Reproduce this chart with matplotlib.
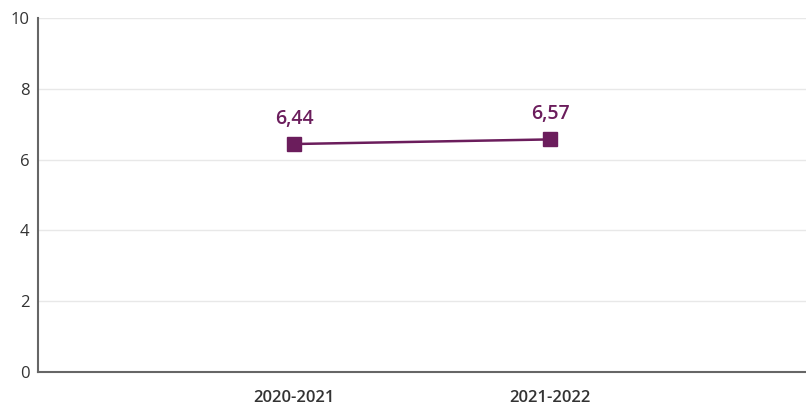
import matplotlib
matplotlib.use("Agg")
import matplotlib.pyplot as plt

seasons = ["2020-2021", "2021-2022"]
values = [6.44, 6.57]
labels = ["6,44", "6,57"]
yticks = [0, 2, 4, 6, 8, 10]

purple = "#6b1d5c"
plt.rcParams['font.family'] = ['Open Sans', 'DejaVu Sans']

fig = plt.figure(figsize=(8.06, 4.07), dpi=100)
ax = fig.add_axes([0.0471, 0.086, 0.9529, 0.8698])

x = list(range(len(seasons)))
ax.plot(x, values, color=purple, linewidth=1.8, marker="s", markersize=10, zorder=3)
for xi, v, lab in zip(x, values, labels):
    ax.annotate(lab, (xi, v), xytext=(0, 11), textcoords="offset points",
                ha="center", va="bottom", color=purple, fontsize=14, fontweight="semibold")

ax.set_xlim(-1, 2)
ax.set_ylim(0, 10)
ax.set_xticks(x)
ax.set_xticklabels(seasons, fontweight="semibold")
ax.set_yticks(yticks)
ax.set_yticklabels([str(t) for t in yticks])
ax.tick_params(axis="x", length=0, pad=13, labelsize=12, colors="#333333")
ax.tick_params(axis="y", length=0, pad=6, labelsize=12, colors="#333333")
ax.grid(axis="y", color="#e8e8e8", linewidth=1)
ax.set_axisbelow(True)
for s in ["top", "right"]:
    ax.spines[s].set_visible(False)
for s in ["left", "bottom"]:
    ax.spines[s].set_color("#666666")
    ax.spines[s].set_linewidth(1.5)

fig.savefig("out.png", dpi=100)
